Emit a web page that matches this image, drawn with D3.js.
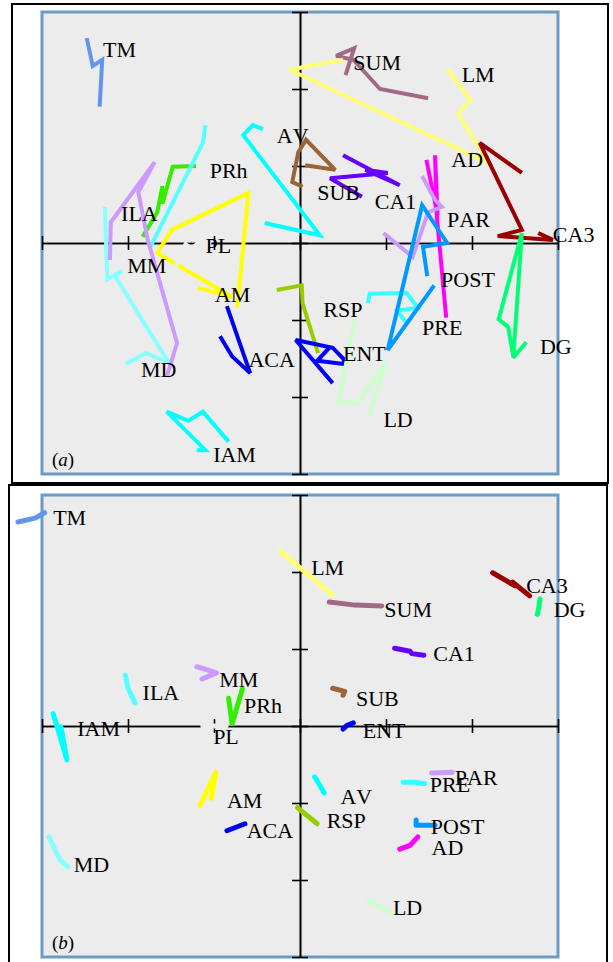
<!DOCTYPE html>
<html>
<head>
<meta charset="utf-8">
<script src="https://cdn.jsdelivr.net/npm/d3@7"></script>
<style>
  body { margin: 0; background: #fff; }
  svg { display: block; }
  text { font-family: "Liberation Serif", "Times New Roman", serif; }
</style>
</head>
<body>
<svg id="chart" width="613" height="962"></svg>
<script>
// Brain regions, in drawing order
const regions = ["TM","SUM","LM","AD","PAR","CA1","SUB","AV","PRh","ILA","MD","MM",
                 "AM","ACA","RSP","ENT","LD","PRE","POST","CA3","DG","IAM","PL"];

const tickValues = [-3, -2, -1, 0, 1, 2, 3];

// Panel (a): trajectories in component space, one polyline per region
const trajectoriesA = [
  [[-2.48,2.66],[-2.41,2.30],[-2.30,2.38],[-2.33,1.77]],
  [[1.49,1.88],[0.93,2.00],[0.62,2.38],[0.42,2.43],[0.63,2.53],[0.53,2.18]],
  [[1.71,2.26],[1.98,1.86],[1.84,1.68],[2.19,1.04],[-0.12,2.25],[0.50,2.38]],
  [[1.47,1.08],[1.60,0.36],[1.57,1.14],[1.59,0.36],[1.70,-0.97]],
  [[1.42,0.87],[1.57,0.56],[1.65,0.47],[1.49,0.40],[1.31,-0.18],[0.97,0.13]],
  [[0.50,1.14],[1.16,0.75],[0.76,0.95],[1.02,0.91],[0.35,0.84],[0.72,0.60]],
  [[0.06,1.01],[0.41,0.95],[0.07,1.34],[-0.02,1.18],[-0.09,0.79],[0.03,0.73]],
  [[-0.43,1.48],[-0.55,1.53],[-0.66,1.40],[0.23,0.10],[-0.41,0.26]],
  [[-1.21,1.00],[-1.48,0.99],[-1.60,0.51],[-1.60,0.74],[-1.66,0.40],[-1.83,0.08]],
  [[-1.10,1.53],[-1.13,1.30],[-1.74,-0.05]],
  [[-2.27,0.47],[-2.24,-0.47],[-2.07,-0.36],[-2.15,-0.43],[-1.53,-1.55],[-1.79,-1.43],[-2.03,-1.57]],
  [[-2.21,-0.22],[-2.20,0.27],[-1.69,1.05],[-1.88,0.66],[-1.77,0.04],[-1.43,-1.30],[-1.55,-1.74]],
  [[-0.73,-0.84],[-0.60,0.65],[-1.49,0.17],[-1.66,-0.13],[-0.79,-0.70],[-1.19,-0.58]],
  [[-0.85,-0.82],[-0.58,-1.69],[-0.79,-1.47],[-0.93,-1.21]],
  [[-0.27,-0.61],[0.02,-0.55],[0.03,-0.78],[0.21,-1.43]],
  [[0.38,-1.82],[-0.05,-1.26],[0.38,-1.36],[0.51,-1.51],[0.51,-1.57],[0.20,-1.53],[0.35,-1.35]],
  [[0.64,-0.97],[0.45,-2.06],[0.67,-2.08],[0.99,-1.56],[0.81,-2.23]],
  [[0.79,-0.78],[0.81,-0.66],[1.24,-0.65],[1.37,-0.84],[1.13,-0.88],[1.24,-1.04]],
  [[1.48,-0.43],[1.43,-0.05],[1.71,0.00],[1.42,0.49],[1.02,-1.39],[1.56,-0.55]],
  [[2.58,0.91],[2.09,1.30],[2.58,0.17],[2.30,0.09],[2.94,0.04],[2.77,0.13]],
  [[2.63,-1.29],[2.48,-1.49],[2.58,0.13],[2.31,-0.99],[2.42,-1.09],[2.48,-1.47]],
  [[-0.83,-2.58],[-1.13,-2.19],[-1.30,-2.31],[-1.55,-2.19],[-1.10,-2.69],[-1.20,-2.69]],
  [[-1.45,-0.32],[-1.33,-0.01],[-1.26,-0.08],[-1.19,0.00],[-1.03,0.00]]
];

// Panel (b): trajectories in component space
const trajectoriesB = [
  [[-3.28,2.65],[-3.08,2.70],[-2.97,2.77]],
  [[0.34,1.61],[0.64,1.57],[0.95,1.56]],
  [[-0.23,2.27],[0.38,1.70]],
  [[1.16,-1.60],[1.28,-1.55],[1.37,-1.44]],
  [[1.53,-0.61],[1.77,-0.60]],
  [[1.10,1.01],[1.28,0.97],[1.30,0.94],[1.44,0.92]],
  [[0.38,0.49],[0.52,0.45],[0.50,0.40]],
  [[0.17,-0.66],[0.23,-0.77],[0.28,-0.87]],
  [[-0.83,0.36],[-0.79,0.03],[-0.67,0.48]],
  [[-2.03,0.66],[-2.00,0.49],[-1.92,0.30]],
  [[-2.92,-1.44],[-2.79,-1.74],[-2.70,-1.83]],
  [[-1.20,0.77],[-0.97,0.69],[-1.14,0.61]],
  [[-1.16,-1.03],[-0.98,-0.60],[-1.03,-0.94]],
  [[-0.85,-1.36],[-0.64,-1.27]],
  [[-0.03,-1.06],[0.20,-1.27]],
  [[0.50,-0.04],[0.55,0.01],[0.62,0.04]],
  [[0.79,-2.26],[1.05,-2.42]],
  [[1.20,-0.73],[1.34,-0.73],[1.45,-0.75]],
  [[1.35,-1.22],[1.35,-1.29],[1.57,-1.29]],
  [[2.24,1.99],[2.50,1.82],[2.47,1.87],[2.67,1.69]],
  [[2.79,1.65],[2.78,1.56],[2.76,1.45]],
  [[-2.87,0.16],[-2.71,-0.44],[-2.78,-0.01]],
  [[-1.13,0.00],[-0.86,0.00]]
];

// Region name anchors (component space)
const labelsA = [
  [-2.29,2.42],[0.62,2.25],[1.88,2.09],[1.76,0.99],[1.71,0.21],[0.87,0.44],[0.20,0.56],
  [-0.27,1.30],[-1.05,0.84],[-2.08,0.29],[-1.85,-1.74],[-2.01,-0.39],[-0.99,-0.77],
  [-0.60,-1.61],[0.27,-0.96],[0.50,-1.53],[0.97,-2.39],[1.42,-1.19],[1.64,-0.57],
  [2.94,0.01],[2.79,-1.44],[-1.01,-2.84],[-1.10,-0.13]
];
const labelsB = [
  [-2.87,2.61],[0.98,1.42],[0.13,1.96],[1.53,-1.68],[1.80,-0.77],[1.55,0.84],[0.65,0.26],
  [0.47,-1.01],[-0.65,0.17],[-1.83,0.34],[-2.63,-1.90],[-0.94,0.51],[-0.85,-1.06],
  [-0.62,-1.45],[0.31,-1.32],[0.73,-0.16],[1.08,-2.45],[1.51,-0.86],[1.52,-1.40],
  [2.63,1.73],[2.95,1.42],[-2.59,-0.13],[-1.01,-0.23]
];

// Region colours
const palette = ["#6495ed","#a06a84","#ffff77","#ff00ff","#cc99ff","#6600ff","#9c6436",
                 "#00ffff","#33ee00","#55ffff","#88ffff","#cc99ff","#ffff00","#0000ee",
                 "#99cc00","#0000ff","#ccffcc","#33ffff","#0099ff","#990000","#00ff77",
                 "#00ffff","#ececec"];

const svg = d3.select("#chart");
const x = d3.scaleLinear().domain([-3, 3]).range([42, 558]);

const panels = [
  { tag: "a", traj: trajectoriesA, labels: labelsA,
    y: d3.scaleLinear().domain([-3, 3]).range([474, 12]),
    frame: [12, 4, 596, 479], width: 4, cap: "butt", join: "miter" },
  { tag: "b", traj: trajectoriesB, labels: labelsB,
    y: d3.scaleLinear().domain([-3, 3]).range([957, 495]),
    frame: [9, 485, 598, 490], width: 5, cap: "round", join: "round" }
];

panels.forEach(p => {
  const g = svg.append("g");
  const y = p.y;

  // outer frame
  g.append("rect")
    .attr("x", p.frame[0]).attr("y", p.frame[1])
    .attr("width", p.frame[2]).attr("height", p.frame[3])
    .attr("fill", "#fff").attr("stroke", "#000").attr("stroke-width", 2);

  // plotting area
  g.append("rect")
    .attr("x", x(-3)).attr("y", y(3))
    .attr("width", x(3) - x(-3)).attr("height", y(-3) - y(3))
    .attr("fill", "#ececec").attr("stroke", "#6b9bc3").attr("stroke-width", 3);

  // crossing axes through the origin, ticks on both sides
  const axes = g.append("g");
  const hy = y(0), vx = x(0);
  [d3.axisBottom(x), d3.axisTop(x)].forEach(ax => {
    axes.append("g").attr("transform", `translate(0,${hy})`)
      .call(ax.tickValues(tickValues).tickSize(7).tickSizeOuter(0).tickFormat(""));
  });
  [d3.axisLeft(y), d3.axisRight(y)].forEach(ax => {
    axes.append("g").attr("transform", `translate(${vx},0)`)
      .call(ax.tickValues(tickValues).tickSize(8).tickSizeOuter(0).tickFormat(""));
  });
  axes.selectAll("path.domain, line").attr("stroke", "#000").attr("stroke-width", 1.6);

  // trajectories
  const line = d3.line().x(d => x(d[0])).y(d => y(d[1]));
  g.append("g").selectAll("path.traj")
    .data(p.traj)
    .join("path")
    .attr("class", "traj")
    .attr("d", line)
    .attr("fill", "none")
    .attr("stroke", (d, i) => palette[i])
    .attr("stroke-width", p.width)
    .attr("stroke-linecap", p.cap)
    .attr("stroke-linejoin", p.join)
    .attr("stroke-miterlimit", 3);

  // region names
  g.append("g").selectAll("text")
    .data(p.labels)
    .join("text")
    .attr("x", d => x(d[0]))
    .attr("y", d => y(d[1]))
    .attr("font-size", 22)
    .attr("fill", "#000")
    .style("font-kerning", "none")
    .text((d, i) => regions[i]);

  // panel tag, e.g. (a)
  const t = g.append("text")
    .attr("x", x(-3) + 10)
    .attr("y", y(-3) - 8)
    .attr("font-size", 19)
    .attr("fill", "#000");
  t.append("tspan").text("(");
  t.append("tspan").attr("font-style", "italic").text(p.tag);
  t.append("tspan").text(")");
});
</script>
</body>
</html>
